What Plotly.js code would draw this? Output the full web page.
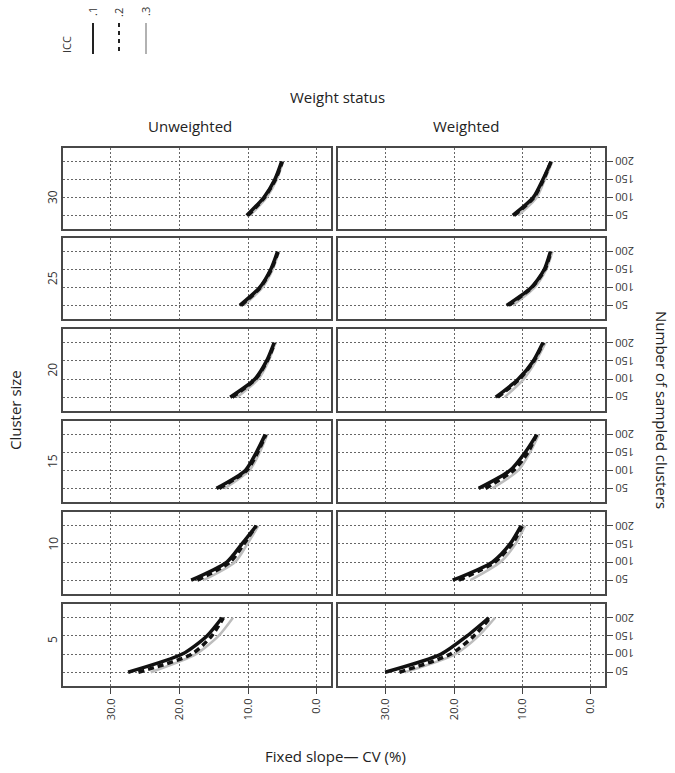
<!DOCTYPE html>
<html>
<head>
<meta charset="utf-8">
<script src="https://cdn.plot.ly/plotly-3.0.1.min.js"></script>
<style>html,body{margin:0;padding:0;background:#fff;}#chart{width:675px;height:773px;}</style>
</head>
<body>
<div id="chart"></div>
<script>
// ---- DATA ----
const sampledClusters = [50, 100, 150, 200];
const clusterSizes = [30, 25, 20, 15, 10, 5];
const weightStatus = ['Unweighted', 'Weighted'];
const iccLevels = ['.1', '.2', '.3'];
const xTickVals = [0, 10, 20, 30];
const xTickText = ['0.0', '10.0', '20.0', '30.0'];
const yTickVals = [50, 100, 150, 200];
const yTickText = ['50', '100', '150', '200'];

// CV (%) per panel; rows = ICC .1, .2, .3 ; columns = sampled clusters 50,100,150,200
const unweighted_30 = [[10.2, 7.7, 6.1, 5.1], [10.0, 7.6, 6.0, 5.0], [9.7, 7.3, 5.8, 4.9]];
const unweighted_25 = [[11.2, 8.3, 6.7, 5.7], [11.0, 8.2, 6.6, 5.6], [10.6, 7.9, 6.4, 5.5]];
const unweighted_20 = [[12.6, 9.0, 7.3, 6.2], [12.3, 8.9, 7.2, 6.1], [11.6, 8.5, 7.0, 6.0]];
const unweighted_15 = [[14.6, 10.4, 8.8, 7.5], [14.2, 10.2, 8.6, 7.4], [13.4, 9.8, 8.3, 7.2]];
const unweighted_10 = [[18.3, 13.1, 10.9, 8.8], [17.4, 12.6, 10.6, 8.8], [16.5, 11.9, 10.1, 8.5]];
const unweighted_5  = [[27.5, 19.6, 16.0, 13.8], [26.0, 18.2, 15.3, 13.6], [24.2, 17.6, 14.3, 12.2]];

const weighted_30 = [[11.4, 8.4, 7.0, 5.8], [11.2, 8.3, 6.9, 5.8], [10.6, 7.9, 6.7, 5.6]];
const weighted_25 = [[12.3, 8.7, 6.8, 5.9], [12.0, 8.6, 6.7, 5.8], [11.4, 8.2, 6.5, 5.6]];
const weighted_20 = [[13.9, 10.6, 8.4, 7.0], [13.6, 10.4, 8.3, 6.9], [12.6, 9.8, 8.0, 6.6]];
const weighted_15 = [[16.4, 11.8, 9.6, 7.9], [15.4, 11.3, 9.2, 7.9], [14.4, 10.6, 8.9, 7.6]];
const weighted_10 = [[20.2, 14.4, 11.8, 10.2], [19.3, 14.0, 11.5, 10.0], [17.6, 13.2, 11.0, 9.6]];
const weighted_5  = [[30.1, 21.9, 18.1, 14.9], [28.0, 20.5, 17.1, 14.7], [27.2, 19.8, 16.4, 14.0]];

const panelData = [
  [unweighted_30, weighted_30],
  [unweighted_25, weighted_25],
  [unweighted_20, weighted_20],
  [unweighted_15, weighted_15],
  [unweighted_10, weighted_10],
  [unweighted_5, weighted_5]
];

// ---- STYLE / LAYOUT ----
const W = 675, H = 773;
const px = x => x / W;
const py = y => 1 - y / H;
const colPx = [[63, 331], [338, 605]];
const rowPx = [[148, 229], [238, 319], [329, 411], [421, 502], [512, 594], [604, 686]];
const iccStyles = [
  {color: '#111', width: 3.5, dash: 'solid'},
  {color: '#111', width: 3.5, dash: '6px,4px'},
  {color: '#bdbdbd', width: 2.5, dash: 'solid'}
];
const drawOrder = [2, 0, 1];
const fam = 'Open Sans, Noto Sans, sans-serif';
const tickFont = {family: fam, size: 11, color: '#333'};
const titleFont = {family: fam, size: 15, color: '#222'};

const traces = [];
const layout = {
  width: W, height: H,
  margin: {l: 0, r: 0, t: 0, b: 0},
  paper_bgcolor: '#fff', plot_bgcolor: '#fff',
  showlegend: false,
  annotations: [],
  shapes: []
};

for (let r = 0; r < clusterSizes.length; r++) {
  for (let c = 0; c < 2; c++) {
    const n = r * 2 + c + 1;
    const xa = 'x' + (n === 1 ? '' : n), ya = 'y' + (n === 1 ? '' : n);
    const xk = 'xaxis' + (n === 1 ? '' : n), yk = 'yaxis' + (n === 1 ? '' : n);
    const vals = panelData[r][c];
    drawOrder.forEach(k => {
      traces.push({
        type: 'scatter', mode: 'lines',
        x: vals[k], y: sampledClusters,
        xaxis: xa, yaxis: ya,
        line: {color: iccStyles[k].color, width: iccStyles[k].width, dash: iccStyles[k].dash, shape: 'spline', smoothing: 0.7},
        name: 'ICC ' + iccLevels[k], hoverinfo: 'skip'
      });
    });
    const bottom = r === clusterSizes.length - 1;
    layout[xk] = {
      domain: [px(colPx[c][0]), px(colPx[c][1])],
      anchor: ya,
      range: [37, -2.1],
      showgrid: true, gridcolor: '#666', griddash: '2px,2px', gridwidth: 1,
      zeroline: false,
      showline: true, mirror: true, linecolor: '#484848', linewidth: 2,
      tickvals: xTickVals, ticktext: xTickText,
      showticklabels: bottom,
      ticks: bottom ? 'outside' : '', ticklen: 6, tickcolor: '#444', tickwidth: 1,
      tickangle: -90, tickfont: tickFont
    };
    layout[yk] = {
      domain: [py(rowPx[r][1]), py(rowPx[r][0])],
      anchor: xa,
      range: [12, 238],
      side: 'right',
      showgrid: true, gridcolor: '#666', griddash: '2px,2px', gridwidth: 1,
      zeroline: false,
      showline: true, mirror: true, linecolor: '#484848', linewidth: 2,
      tickvals: yTickVals,
      showticklabels: false,
      ticks: c === 1 ? 'outside' : '', ticklen: 6, tickcolor: '#444', tickwidth: 1
    };
    if (c === 1) {
      yTickVals.forEach((v, i) => {
        layout.annotations.push({
          text: yTickText[i], xref: 'paper', yref: ya,
          x: px(613), y: v, xanchor: 'left', yanchor: 'middle',
          textangle: 180, showarrow: false, font: tickFont
        });
      });
    } else {
      layout.annotations.push({
        text: String(clusterSizes[r]), xref: 'paper', yref: 'paper',
        x: px(42), y: py((rowPx[r][0] + rowPx[r][1]) / 2),
        textangle: -90, showarrow: false, font: {family: fam, size: 12, color: '#333'}
      });
    }
  }
}

// strip / axis titles
const ann = (text, x, y, angle, font) => layout.annotations.push({
  text, xref: 'paper', yref: 'paper', x: px(x), y: py(y),
  xanchor: 'center', yanchor: 'middle', textangle: angle, showarrow: false, font
});
ann('Weight status', 337, 97, 0, titleFont);
ann(weightStatus[0], 190, 126, 0, titleFont);
ann(weightStatus[1], 466, 126, 0, titleFont);
ann('Cluster size', 15, 410, -90, titleFont);
ann('Number of sampled clusters', 662, 410, 90, titleFont);
ann('Fixed slope\u2014 CV (%)', 335, 756, 0, titleFont);

// legend (ICC)
ann('ICC', 66, 45, -90, {family: fam, size: 11, color: '#333'});
const legX = [93, 119, 146];
iccLevels.forEach((lab, k) => {
  ann(lab, legX[k], 12, -90, {family: fam, size: 11, color: '#333'});
  layout.shapes.push({
    type: 'line', xref: 'paper', yref: 'paper',
    x0: px(legX[k]), x1: px(legX[k]), y0: py(23), y1: py(54),
    line: {color: k === 2 ? '#999' : '#222', width: k === 2 ? 1.5 : 2, dash: k === 1 ? '4px,4px' : 'solid'}
  });
});

Plotly.newPlot('chart', traces, layout, {staticPlot: true, displayModeBar: false});
</script>
</body>
</html>
